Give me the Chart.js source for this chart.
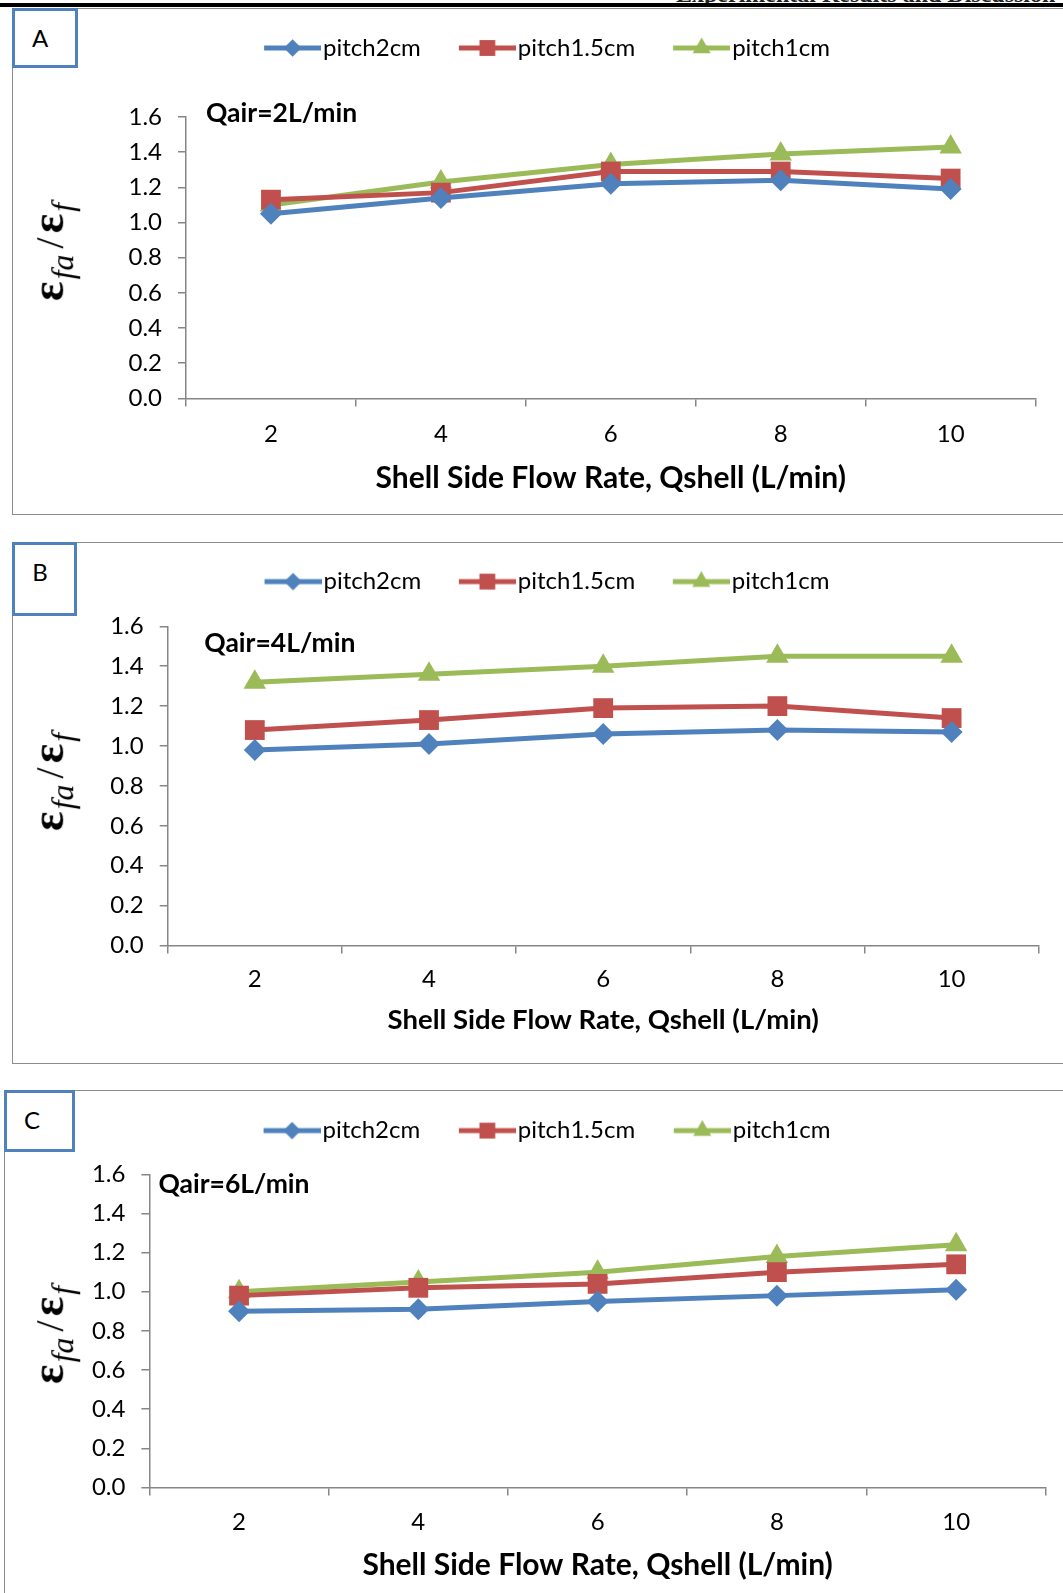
<!DOCTYPE html>
<html>
<head>
<meta charset="utf-8">
<script src="https://cdn.jsdelivr.net/npm/chart.js@4.4.1/dist/chart.umd.min.js"></script>
<style>
  html, body { margin: 0; padding: 0; background: #fff; }
  body { width: 1063px; height: 1593px; position: relative; overflow: hidden; font-family: Lato, sans-serif; }
  .head { position: absolute; left: 0; top: 0; width: 1063px; height: 3px; overflow: hidden; }
  .head span { position: absolute; top: -19px; font: bold 24px "Liberation Serif", serif; white-space: nowrap; color: #222; }
  .rule { position: absolute; left: 0; top: 3px; width: 1063px; height: 4px; background: #000; }
  .panel { position: absolute; border: 1.5px solid #8c8c8c; box-sizing: border-box; }
  .plot { position: absolute; }
  .tag { position: absolute; border: 3px solid #4f81bd; background: #fff; box-sizing: border-box; }
  .tag span { position: absolute; left: 25px; top: 26px; transform: translate(-50%, -50%); font: 24px Lato, sans-serif; }
  .ytitle { position: absolute; transform: translate(-50%, -50%) rotate(-90deg); white-space: nowrap;
            font-family: "Liberation Serif", serif; color: #000; }
  .ytitle .eps { font-weight: bold; font-size: 46px; }
  .ytitle sub { font-style: italic; font-size: 32px; vertical-align: -0.3em; padding: 0 2px; }
  .ytitle .sl { font-size: 40px; padding: 0 4px; }
</style>
</head>
<body>
<div class="head"><span style="left:676px">Experimental Results and Discussion</span></div>
<div class="rule"></div>

<div class="panel" style="left:12px; top:8px; width:1100px; height:507px"></div>
<div class="panel" style="left:12px; top:542px; width:1100px; height:522px"></div>
<div class="panel" style="left:4px; top:1090px; width:1100px; height:600px"></div>

<canvas id="chartA" class="plot" width="1068" height="507" style="left:12px; top:8px"></canvas>
<canvas id="chartB" class="plot" width="1068" height="522" style="left:12px; top:542px"></canvas>
<canvas id="chartC" class="plot" width="1080" height="510" style="left:4px; top:1090px"></canvas>

<div class="tag" style="left:12px; top:8px; width:66px; height:60px"><span>A</span></div>
<div class="tag" style="left:12px; top:542px; width:65px; height:74px"><span>B</span></div>
<div class="tag" style="left:4px; top:1090px; width:71px; height:62px"><span>C</span></div>

<div class="ytitle" style="left:51px; top:251px"><span class="eps">ε</span><sub>fa</sub><span class="sl">/</span><span class="eps">ε</span><sub>f</sub></div>
<div class="ytitle" style="left:51px; top:781px"><span class="eps">ε</span><sub>fa</sub><span class="sl">/</span><span class="eps">ε</span><sub>f</sub></div>
<div class="ytitle" style="left:51px; top:1334px"><span class="eps">ε</span><sub>fa</sub><span class="sl">/</span><span class="eps">ε</span><sub>f</sub></div>

<script>
// data
const shellFlow = ['2', '4', '6', '8', '10'];
const pitchNames = ['pitch2cm', 'pitch1.5cm', 'pitch1cm'];
const qairLabels = ['Qair=2L/min', 'Qair=4L/min', 'Qair=6L/min'];
const xTitle = 'Shell Side Flow Rate, Qshell (L/min)';
const yMin = 0, yMax = 1.6, yStep = 0.2;

// Qair = 2 L/min
const pitch2A  = [1.05, 1.14, 1.22, 1.24, 1.19];
const pitch15A = [1.13, 1.17, 1.29, 1.29, 1.25];
const pitch1A  = [1.10, 1.23, 1.33, 1.39, 1.43];
// Qair = 4 L/min
const pitch2B  = [0.98, 1.01, 1.06, 1.08, 1.07];
const pitch15B = [1.08, 1.13, 1.19, 1.20, 1.14];
const pitch1B  = [1.32, 1.36, 1.40, 1.45, 1.45];
// Qair = 6 L/min
const pitch2C  = [0.90, 0.91, 0.95, 0.98, 1.01];
const pitch15C = [0.98, 1.02, 1.04, 1.10, 1.14];
const pitch1C  = [1.00, 1.05, 1.10, 1.18, 1.24];

// styles
const colors = ['#4f81bd', '#c0504d', '#9bbb59'];
const markers = ['rectRot', 'rect', 'triangle'];
const markerSize = [11, 14, 13];
const lineW = 5;
const axisGray = '#868686';

function legendIcon(i) {
    const c = document.createElement('canvas');
    c.width = 77; c.height = 28;
    const g = c.getContext('2d');
    g.strokeStyle = colors[i];
    g.lineWidth = lineW;
    g.beginPath(); g.moveTo(20, 14); g.lineTo(77, 14); g.stroke();
    g.fillStyle = colors[i];
    Chart.helpers.drawPoint(g, { pointStyle: markers[i], radius: markerSize[i] * 0.8, rotation: 0, borderWidth: 0 }, 48.5, 14);
    return c;
}
const legendIcons = pitchNames.map((_, i) => legendIcon(i));

const qairPlugin = {
    id: 'qair',
    afterDraw(chart, args, opts) {
        const { ctx, chartArea } = chart;
        ctx.save();
        ctx.font = 'bold ' + opts.size + 'px Lato';
        ctx.fillStyle = '#000';
        ctx.textBaseline = 'middle';
        ctx.fillText(opts.text, chartArea.left + opts.dx, chartArea.top + opts.dy);
        ctx.restore();
    }
};

// legend box made as tall as the space above the plot
const legendGap = top => ({
    id: 'legendGap',
    beforeLayout(chart) {
        const lg = chart.legend;
        if (!lg || lg._gapDone) return;
        const fit = lg.fit;
        lg.fit = function () { fit.call(this); this.height = top; };
        lg._gapDone = true;
    }
});

function buildChart(id, values, qair, L) {
    const cv = document.getElementById(id);
    const W = cv.width, H = cv.height;
    const padL = 2 * L.legendX - L.right;
    const tickFont = { family: 'Lato', size: 24 };

    return new Chart(cv, {
        type: 'line',
        data: {
            labels: shellFlow,
            datasets: pitchNames.map((name, i) => ({
                label: name,
                data: values[i],
                borderColor: colors[i],
                backgroundColor: colors[i],
                borderWidth: lineW,
                pointStyle: markers[i],
                pointRadius: markerSize[i],
                pointHoverRadius: markerSize[i],
                pointBorderWidth: 0,
                pointBackgroundColor: colors[i],
                tension: 0,
                clip: false
            }))
        },
        options: {
            responsive: false,
            animation: false,
            events: [],
            layout: { padding: { left: padL, right: W - L.right, top: 0, bottom: 0 } },
            scales: {
                x: {
                    type: 'category',
                    offset: true,
                    grid: { offset: true, drawOnChartArea: false, drawTicks: true, tickLength: 8, color: axisGray, lineWidth: 1.5 },
                    border: { color: axisGray, width: 1.5 },
                    ticks: { color: '#000', font: tickFont, padding: L.xTickPad, maxRotation: 0, autoSkip: false },
                    title: {
                        display: true, text: xTitle, color: '#000',
                        font: { family: 'Lato', size: L.titleSize, weight: 'bold' },
                        padding: { top: 0, bottom: L.titlePad }
                    },
                    afterFit: s => { s.height = H - L.bottom; }
                },
                y: {
                    min: yMin,
                    max: yMax,
                    grid: { drawOnChartArea: false, drawTicks: true, tickLength: 8, color: axisGray, lineWidth: 1.5 },
                    border: { color: axisGray, width: 1.5 },
                    ticks: { stepSize: yStep, color: '#000', font: tickFont, padding: 16, callback: v => v.toFixed(1) },
                    afterFit: s => { s.width = L.left - padL; }
                }
            },
            plugins: {
                tooltip: { enabled: false },
                legend: {
                    position: 'top',
                    labels: {
                        usePointStyle: true,
                        pointStyleWidth: 57,
                        padding: L.legendPad,
                        color: '#000',
                        font: tickFont,
                        generateLabels: chart => Chart.defaults.plugins.legend.labels.generateLabels(chart)
                            .map((item, i) => Object.assign(item, { pointStyle: legendIcons[i] }))
                    }
                },
                qair: { text: qair, size: 26.5, dx: L.qx, dy: L.qy }
            }
        },
        plugins: [qairPlugin, legendGap(L.top)]
    });
}

buildChart('chartA', [pitch2A, pitch15A, pitch1A], qairLabels[0], {
    left: 174, right: 1023.6, top: 109, bottom: 390.4, legendX: 530, legendPad: 28,
    xTickPad: 13, titleSize: 30, titlePad: 19, qx: 20, qy: -4
});
buildChart('chartB', [pitch2B, pitch15B, pitch1B], qairLabels[1], {
    left: 155.7, right: 1026.7, top: 84.3, bottom: 403.5, legendX: 530, legendPad: 27.6,
    xTickPad: 11, titleSize: 27.5, titlePad: 27, qx: 36.6, qy: 17.3
});
buildChart('chartC', [pitch2C, pitch15C, pitch1C], qairLabels[2], {
    left: 145.4, right: 1041.8, top: 84.3, bottom: 397.4, legendX: 538, legendPad: 28.6,
    xTickPad: 12, titleSize: 30, titlePad: 16.4, qx: 9, qy: 10
});
</script>
</body>
</html>
